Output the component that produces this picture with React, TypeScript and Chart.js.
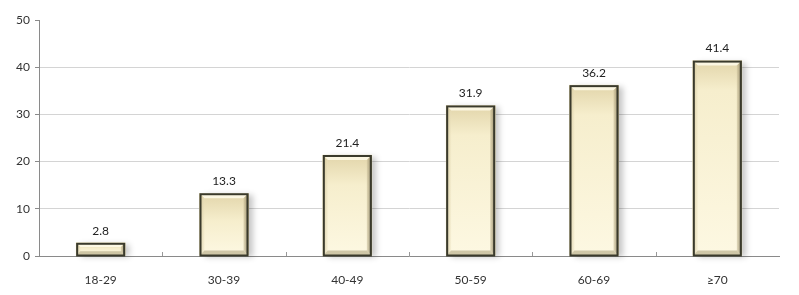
import React, { useEffect, useRef } from "react";
import { Chart, registerables } from "chart.js";

Chart.register(...registerables);

const categories = ["18-29", "30-39", "40-49", "50-59", "60-69", "≥70"];
const values = [2.8, 13.3, 21.4, 31.9, 36.2, 41.4];
const yTicks = [0, 10, 20, 30, 40, 50];

const FONT = "Lato, 'Liberation Sans', sans-serif";

const bevelPlugin = {
  id: "bevelBars",
  beforeDatasetsDraw(chart: any) {
    const ctx = chart.ctx;
    const meta = chart.getDatasetMeta(0);
    ctx.save();
    meta.data.forEach((bar: any) => {
      const w = bar.width;
      const left = bar.x - w / 2;
      const top = bar.y;
      const h = bar.base - bar.y;
      ctx.shadowColor = "rgba(0,0,0,0.45)";
      ctx.shadowBlur = 6;
      ctx.shadowOffsetX = 4;
      ctx.shadowOffsetY = 1;
      ctx.fillStyle = "rgba(120,120,110,0.5)";
      ctx.fillRect(left + 1, top + 1, w - 1, h - 1);
    });
    ctx.restore();
  },
  afterDatasetsDraw(chart: any) {
    const ctx = chart.ctx;
    const meta = chart.getDatasetMeta(0);
    ctx.save();
    meta.data.forEach((bar: any) => {
      const w = bar.width;
      const L = bar.x - w / 2;
      const T = bar.y;
      const R = L + w;
      const B = bar.base;
      const h = B - T;
      // body gradient
      const g = ctx.createLinearGradient(0, T, 0, B);
      g.addColorStop(0, "#e2d5aa");
      g.addColorStop(Math.min(0.45, 30 / Math.max(h, 1)), "#f6eecd");
      g.addColorStop(1, "#fdf8e2");
      ctx.fillStyle = g;
      ctx.fillRect(L, T, w, h);
      const b = Math.min(5, h / 3);
      // top bevel (light)
      ctx.fillStyle = "rgba(255,252,235,0.85)";
      ctx.beginPath();
      ctx.moveTo(L, T);
      ctx.lineTo(R, T);
      ctx.lineTo(R - b, T + b);
      ctx.lineTo(L + b, T + b);
      ctx.closePath();
      ctx.fill();
      // left bevel
      const gl = ctx.createLinearGradient(L, 0, L + b, 0);
      gl.addColorStop(0, "rgba(190,178,135,0.7)");
      gl.addColorStop(1, "rgba(235,225,190,0.3)");
      ctx.fillStyle = gl;
      ctx.beginPath();
      ctx.moveTo(L, T);
      ctx.lineTo(L + b, T + b);
      ctx.lineTo(L + b, B - b);
      ctx.lineTo(L, B);
      ctx.closePath();
      ctx.fill();
      // right bevel (dark)
      const gr = ctx.createLinearGradient(R - b, 0, R, 0);
      gr.addColorStop(0, "rgba(200,188,150,0.5)");
      gr.addColorStop(1, "rgba(120,110,80,0.85)");
      ctx.fillStyle = gr;
      ctx.beginPath();
      ctx.moveTo(R, T);
      ctx.lineTo(R, B);
      ctx.lineTo(R - b, B - b);
      ctx.lineTo(R - b, T + b);
      ctx.closePath();
      ctx.fill();
      // bottom bevel
      ctx.fillStyle = "rgba(170,158,120,0.55)";
      ctx.beginPath();
      ctx.moveTo(L, B);
      ctx.lineTo(R, B);
      ctx.lineTo(R - b, B - b);
      ctx.lineTo(L + b, B - b);
      ctx.closePath();
      ctx.fill();
      // border
      ctx.strokeStyle = "#3a3a2c";
      ctx.lineWidth = 2;
      ctx.strokeRect(L + 1, T + 1, w - 2, h - 1);
    });
    // value labels
    ctx.fillStyle = "#222";
    ctx.font = `12px ${FONT}`;
    ctx.textAlign = "center";
    ctx.textBaseline = "middle";
    meta.data.forEach((bar: any, i: number) => {
      ctx.fillText(String(values[i]), bar.x, bar.y - 12);
    });
    // small x tick marks at category boundaries (inside)
    const xs = chart.scales.x;
    ctx.strokeStyle = "#999";
    ctx.lineWidth = 1;
    for (let i = 1; i < categories.length; i++) {
      const x = Math.round((xs.getPixelForValue(i - 1) + xs.getPixelForValue(i)) / 2) + 0.5;
      ctx.beginPath();
      ctx.moveTo(x, xs.top - 4);
      ctx.lineTo(x, xs.top);
      ctx.stroke();
    }
    ctx.restore();
  },
};

export default function App() {
  const ref = useRef<HTMLCanvasElement>(null);
  useEffect(() => {
    if (!ref.current) return;
    const chart = new Chart(ref.current, {
      type: "bar",
      data: {
        labels: categories,
        datasets: [
          {
            data: values,
            backgroundColor: "#f6eecd",
            borderColor: "#3a3a2c",
            borderWidth: 0,
            barThickness: 49,
          },
        ],
      },
      options: {
        responsive: false,
        animation: false,
        devicePixelRatio: 1,
        layout: { padding: { top: 20, right: 20, left: 0, bottom: 0 } },
        plugins: { legend: { display: false }, tooltip: { enabled: false } },
        scales: {
          x: {
            grid: { display: false },
            border: { display: true, color: "#8a8a8a", width: 1 },
            ticks: { color: "#333", font: { family: FONT, size: 12 }, padding: 9 },
            afterFit(s: any) {
              s.height = 39;
            },
          },
          y: {
            min: 0,
            max: 50,
            afterBuildTicks(s: any) {
              s.ticks = yTicks.map((v) => ({ value: v }));
            },
            grid: {
              color: (c: any) => (c.tick && c.tick.value === 50 ? "rgba(0,0,0,0)" : "#d4d4d4"),
              tickColor: "#8a8a8a",
              tickLength: 4,
              lineWidth: 1,
            },
            border: { display: true, color: "#8a8a8a", width: 1 },
            ticks: { color: "#333", font: { family: FONT, size: 12 }, padding: 5 },
            afterFit(s: any) {
              s.width = 39;
            },
          },
        },
      },
      plugins: [bevelPlugin],
    } as any);
    return () => chart.destroy();
  }, []);
  return (
    <div style={{ position: "fixed", left: 0, top: 0, width: 799, height: 295, background: "#fff" }}>
      <canvas ref={ref} width={799} height={295} style={{ display: "block" }} />
    </div>
  );
}
